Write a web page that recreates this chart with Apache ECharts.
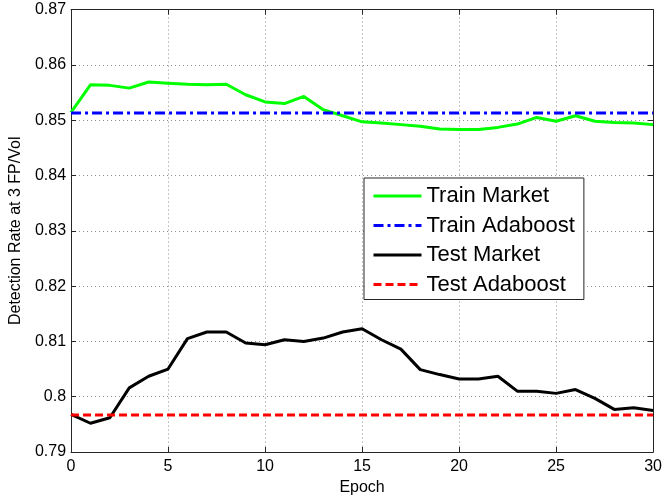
<!DOCTYPE html>
<html>
<head>
<meta charset="utf-8">
<script src="https://cdn.jsdelivr.net/npm/echarts@6/dist/echarts.min.js"></script>
<style>
html,body{margin:0;padding:0;background:#fff;}
#chart{width:665px;height:502px;}
</style>
</head>
<body>
<div id="chart"></div>
<script>
// ---- data ----
var epochs = [0,1,2,3,4,5,6,7,8,9,10,11,12,13,14,15,16,17,18,19,20,21,22,23,24,25,26,27,28,29,30];
var trainMarket = [0.8514,0.8564,0.8563,0.8558,0.8569,0.8567,0.8565,0.8564,0.8565,0.8546,0.8533,0.8530,0.8543,0.8519,0.8508,0.8497,
                   0.8495,0.8492,0.8489,0.8484,0.8483,0.8483,0.8487,0.8493,0.8505,0.8498,0.8508,0.8498,0.8496,0.8495,0.8492];
var testMarket = [0.7968,0.7952,0.7962,0.8016,0.8037,0.8050,0.8105,0.8117,0.8117,0.8097,0.8094,0.8103,0.8100,0.8106,0.8117,0.8123,
                  0.8103,0.8086,0.8049,0.8040,0.8032,0.8032,0.8037,0.8010,0.8010,0.8006,0.8013,0.7997,0.7977,0.7980,0.7975];
var trainAdaboost = 0.8513;
var testAdaboost = 0.7967;
var seriesNames = ['Train Market','Train Adaboost','Test Market','Test Adaboost'];
var xTicks = [0,5,10,15,20,25,30];
var yTicks = [0.79,0.80,0.81,0.82,0.83,0.84,0.85,0.86,0.87];

function pairs(xs, ys){ return xs.map(function(x,i){ return [x, ys[i]]; }); }
function constLine(v){ return [[epochs[0], v],[epochs[epochs.length-1], v]]; }

var FONT = "Arial, 'Liberation Sans', sans-serif";
var chart = echarts.init(document.getElementById('chart'), null, {renderer:'canvas'});

var axisLineStyle = {color:'#262626', width:1};
var gridLine = {show:true, lineStyle:{color:'#8c8c8c', width:1, type:[1,3]}};

chart.setOption({
  animation:false,
  backgroundColor:'#ffffff',
  grid:{left:67.5, right:7.5, top:9.6, bottom:50, containLabel:false},
  xAxis:[{
    type:'value', min:xTicks[0], max:xTicks[xTicks.length-1], interval:5,
    name:'Epoch', nameLocation:'middle', nameGap:22,
    nameTextStyle:{fontFamily:FONT, fontSize:16, color:'#000'},
    axisLine:{show:true, onZero:false, lineStyle:axisLineStyle},
    axisTick:{show:true, inside:true, length:5, lineStyle:axisLineStyle},
    axisLabel:{fontFamily:FONT, fontSize:16, color:'#000', margin:7},
    splitLine:gridLine
  },{
    type:'value', position:'top', min:xTicks[0], max:xTicks[xTicks.length-1], interval:5,
    axisLine:{show:true, onZero:false, lineStyle:axisLineStyle},
    axisTick:{show:true, inside:true, length:5, lineStyle:axisLineStyle},
    axisLabel:{show:false}, splitLine:{show:false}
  }],
  yAxis:[{
    type:'value', min:yTicks[0], max:yTicks[yTicks.length-1], interval:0.01,
    name:'Detection Rate at 3 FP/Vol', nameLocation:'middle', nameGap:39,
    nameTextStyle:{fontFamily:FONT, fontSize:16, color:'#000'},
    axisLine:{show:true, onZero:false, lineStyle:axisLineStyle},
    axisTick:{show:true, inside:true, length:5, lineStyle:axisLineStyle},
    axisLabel:{fontFamily:FONT, fontSize:16, color:'#000', margin:5,
      formatter:function(v){ return String(+v.toFixed(2)); }},
    splitLine:gridLine
  },{
    type:'value', position:'right', min:yTicks[0], max:yTicks[yTicks.length-1], interval:0.01,
    axisLine:{show:true, onZero:false, lineStyle:axisLineStyle},
    axisTick:{show:true, inside:true, length:5, lineStyle:axisLineStyle},
    axisLabel:{show:false}, splitLine:{show:false}
  }],
  legend:{
    orient:'vertical', left:364, top:178,
    data:seriesNames,
    itemWidth:48, itemHeight:22, itemGap:7.5, itemTextGap:7,
    padding:[7,9,4,8],
    backgroundColor:'#ffffff', borderColor:'#262626', borderWidth:1,
    textStyle:{fontFamily:FONT, fontSize:22, color:'#000', lineHeight:22},
    itemStyle:{opacity:0},
    lineStyle:{width:3}
  },
  series:[{
    name:seriesNames[0], type:'line', symbol:'none', data:pairs(epochs, trainMarket),
    xAxisIndex:0, yAxisIndex:0, z:3,
    lineStyle:{color:'#00ff00', width:3}, itemStyle:{color:'#00ff00'}
  },{
    name:seriesNames[1], type:'line', symbol:'none', data:constLine(trainAdaboost),
    xAxisIndex:0, yAxisIndex:0, z:4,
    lineStyle:{color:'#0000ff', width:3, type:[10,4,3,4]}, itemStyle:{color:'#0000ff'}
  },{
    name:seriesNames[2], type:'line', symbol:'none', data:pairs(epochs, testMarket),
    xAxisIndex:0, yAxisIndex:0, z:3,
    lineStyle:{color:'#000000', width:3}, itemStyle:{color:'#000000'}
  },{
    name:seriesNames[3], type:'line', symbol:'none', data:constLine(testAdaboost),
    xAxisIndex:0, yAxisIndex:0, z:4,
    lineStyle:{color:'#ff0000', width:3, type:[8,4]}, itemStyle:{color:'#ff0000'}
  }]
});
</script>
</body>
</html>
